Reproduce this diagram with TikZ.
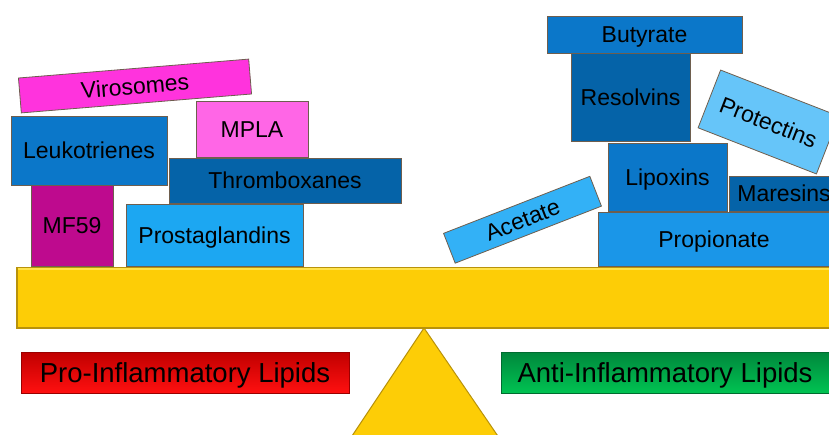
\documentclass[tikz,border=0pt]{standalone}
\usepackage{fontspec}
\setmainfont{Liberation Sans}
\definecolor{edgec}{HTML}{6E5E4E}
\definecolor{cmag}{HTML}{FF33DD}
\definecolor{cpink}{HTML}{FF66E6}
\definecolor{cblue}{HTML}{0B77C9}
\definecolor{cdblue}{HTML}{0563A8}
\definecolor{cpurp}{HTML}{BE0A8E}
\definecolor{cmblue}{HTML}{1CA7F2}
\definecolor{cpblue}{HTML}{1A96E8}
\definecolor{clblue}{HTML}{33B1F6}
\definecolor{cllblue}{HTML}{66C5F9}
\definecolor{cyel}{HTML}{FDCD06}
\definecolor{cyeledge}{HTML}{B8920A}
\definecolor{cyellight}{HTML}{FFE24A}
\definecolor{credtop}{HTML}{C00000}
\definecolor{credbot}{HTML}{FF1010}
\definecolor{cgrtop}{HTML}{00873C}
\definecolor{cgrbot}{HTML}{00C352}
\begin{document}
\begin{tikzpicture}[x=1pt,y=-1pt,
  lipid/.style={draw=edgec, line width=0.8pt, inner sep=0pt, rectangle,
    font=\fontsize{23}{27}\selectfont, text=black, text height=16.5pt, text depth=0pt},
  label/.style={rectangle, inner sep=0pt, line width=0.8pt,
    font=\fontsize{27.5}{32}\selectfont, text=black, text height=19.7pt, text depth=0pt}]
\useasboundingbox (0,0) rectangle (829,435);
\clip (0,0) rectangle (829,435);
% fulcrum
\draw[fill=cyel, draw=cyeledge, line width=1pt] (424,328) -- (346,445) -- (504,445) -- cycle;
\coordinate (apex) at (424,328);
% beam
\node[rectangle, draw=cyeledge, fill=cyel, line width=1.5pt, minimum width=830pt, minimum height=60pt, inner sep=0pt, anchor=north west] (beam) at (16,267) {};
\draw[cyellight, line width=1.2pt] (17.5,269) -- (829,269);
% pro-inflammatory side
\node[lipid, fill=cmag, minimum width=231pt, minimum height=35pt, rotate=4.7] (viro) at (135,86) {Virosomes};
\node[lipid, fill=cpink, minimum width=112pt, minimum height=56pt] (mpla) at (252,129) {MPLA};
\node[lipid, fill=cblue, minimum width=156pt, minimum height=69pt] (leuko) at (89,150.5) {Leukotrienes};
\node[lipid, fill=cdblue, minimum width=232pt, minimum height=45pt] (thromb) at (285,180.5) {Thromboxanes};
\node[lipid, fill=cpurp, minimum width=82pt, minimum height=81pt] (mf) at (72,225.5) {MF59};
\node[lipid, fill=cmblue, minimum width=177pt, minimum height=62pt] (prosta) at (214.5,235) {Prostaglandins};
% anti-inflammatory side
\node[lipid, fill=cblue, minimum width=195pt, minimum height=37pt] (buty) at (644.5,34.5) {Butyrate};
\node[lipid, fill=cdblue, minimum width=119pt, minimum height=88pt] (resol) at (630.5,97) {Resolvins};
\node[lipid, fill=cblue, minimum width=119pt, minimum height=68pt] (lipox) at (667.5,177) {Lipoxins};
\node[lipid, fill=cdblue, minimum width=110pt, minimum height=35pt] (mares) at (784,193.5) {Maresins};
\node[lipid, fill=cpblue, minimum width=232pt, minimum height=54pt] (propio) at (714,239) {Propionate};
\node[lipid, fill=clblue, minimum width=157pt, minimum height=32pt, rotate=21.3] (acet) at (522.5,219.75) {Acetate};
\node[lipid, fill=cllblue, minimum width=127pt, minimum height=62pt, rotate=-21.3] (protec) at (768.5,122) {Protectins};
% labels
\node[label, top color=credtop, bottom color=credbot, draw=credtop!80!black, minimum width=328pt, minimum height=41pt] (pro) at (185,372.5) {Pro-Inflammatory Lipids};
\node[label, top color=cgrtop, bottom color=cgrbot, draw=cgrtop!80!black, minimum width=328pt, minimum height=41pt] (anti) at (665,372.5) {Anti-Inflammatory Lipids};
\end{tikzpicture}
\end{document}
